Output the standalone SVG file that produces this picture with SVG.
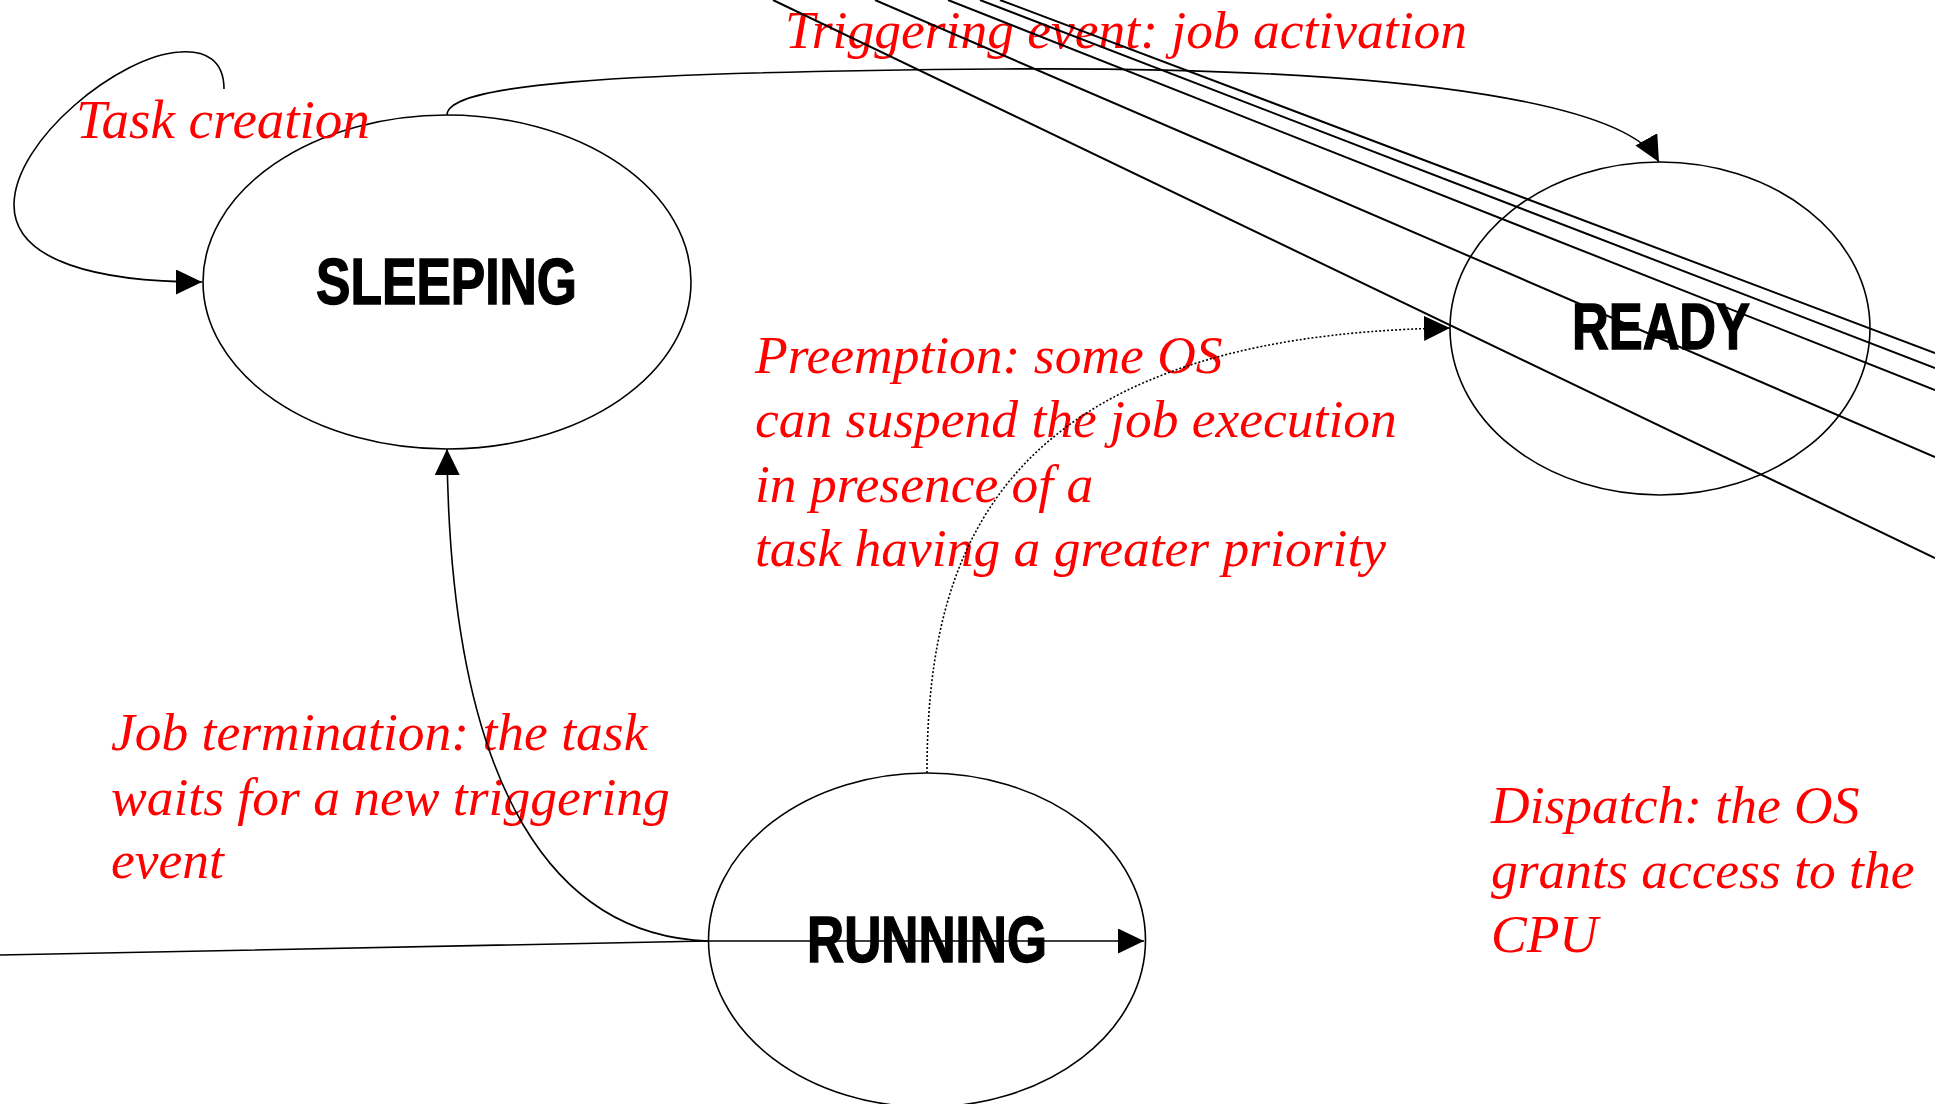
<svg xmlns="http://www.w3.org/2000/svg" width="1935" height="1104" viewBox="0 0 1935 1104">
<style>
.node{fill:none;stroke:#000;stroke-width:1.6}
.lbl{font-family:"Liberation Sans",Arial,sans-serif;font-weight:bold;font-size:64px;fill:#000;stroke:#000;stroke-width:1.4}
.note{font-family:"Liberation Serif","Times New Roman",serif;font-style:italic;font-size:53.5px;fill:#ff0000}
.conn{fill:none;stroke:#000;stroke-width:1.6}
.dot{fill:none;stroke:#000;stroke-width:1.6;stroke-dasharray:2,2}
.diag{fill:none;stroke:#000;stroke-width:2}
</style>
<defs>
<marker id="arr" markerUnits="userSpaceOnUse" viewBox="0 0 26 25" markerWidth="26" markerHeight="25" refX="26" refY="12.5" orient="auto">
<path d="M0,0 L26,12.5 L0,25 Z" fill="#000"/>
</marker>
</defs>
<rect width="1935" height="1104" fill="#fff"/>
<g id="sleeping">
<ellipse class="node" cx="447" cy="282" rx="244" ry="167"/>
<text class="lbl" x="316" y="304" textLength="261" lengthAdjust="spacingAndGlyphs">SLEEPING</text>
</g>
<g id="ready">
<ellipse class="node" cx="1660" cy="328.5" rx="210" ry="166.5"/>
<text class="lbl" x="1572" y="349" textLength="178" lengthAdjust="spacingAndGlyphs">READY</text>
</g>
<g id="running">
<ellipse class="node" cx="927" cy="940" rx="218.5" ry="167"/>
<text class="lbl" x="807" y="962" textLength="240" lengthAdjust="spacingAndGlyphs">RUNNING</text>
</g>
<g id="labels">
<text class="note" x="76" y="138" style="font-size:55px">Task creation</text>
<text class="note" x="785" y="48">Triggering event: job activation</text>
<text class="note" x="755" y="373">Preemption: some OS</text>
<text class="note" x="755" y="437">can suspend the job execution</text>
<text class="note" x="755" y="502">in presence of a</text>
<text class="note" x="755" y="566">task having a greater priority</text>
<text class="note" x="111" y="750">Job termination: the task</text>
<text class="note" x="111" y="815">waits for a new triggering</text>
<text class="note" x="111" y="878">event</text>
<text class="note" x="1491" y="823">Dispatch: the OS</text>
<text class="note" x="1491" y="888">grants access to the</text>
<text class="note" x="1491" y="952">CPU</text>
</g>
<g id="connectors">
<path class="conn" d="M224,89 C224,60 205,50 180,52 C120,55 14,140 14,205 C14,262 100,282 202,282" marker-end="url(#arr)"/>
<path class="conn" d="M447,115 C447,85 600,72 1000,69 C1450,66 1630,110 1659,162" marker-end="url(#arr)"/>
<path class="dot" d="M927,773 C927,560 990,335 1450,328" marker-end="url(#arr)"/>
<path class="conn" d="M708,941 C560,936 450,800 447,449" marker-end="url(#arr)"/>
<path class="conn" d="M0,955 L708,941 L1144,941" marker-end="url(#arr)"/>
<line class="diag" x1="773" y1="0" x2="1935" y2="558"/>
<line class="diag" x1="875" y1="0" x2="1935" y2="457"/>
<line class="diag" x1="948" y1="0" x2="1935" y2="390"/>
<line class="diag" x1="980" y1="0" x2="1935" y2="368"/>
<line class="diag" x1="1000" y1="0" x2="1935" y2="353"/>
</g>
</svg>
